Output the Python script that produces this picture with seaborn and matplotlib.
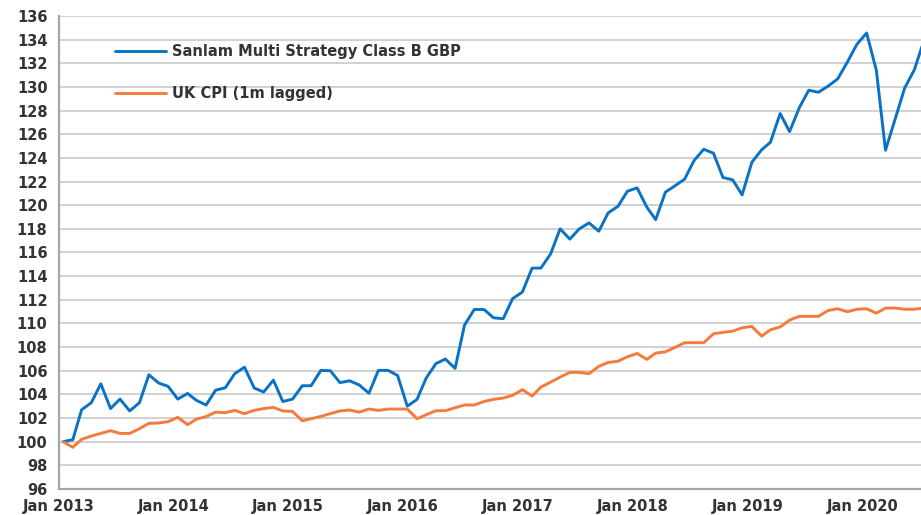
import matplotlib
matplotlib.use("Agg")
import matplotlib.pyplot as plt
import matplotlib.dates as mdates
import pandas as pd
import seaborn as sns

# monthly index values, Jan 2013 - Jul 2020 (rebased to 100)
fund = [100.0, 100.17, 102.7, 103.3, 104.9, 102.8, 103.6, 102.6, 103.3, 105.66, 104.96, 104.68,
        103.6, 104.08, 103.5, 103.1, 104.35, 104.56, 105.75, 106.3, 104.54, 104.2, 105.2, 103.4,
        103.6, 104.73, 104.73, 106.03, 106.0, 104.99, 105.15, 104.8, 104.1, 106.03, 106.03, 105.6,
        103.0, 103.58, 105.38, 106.6, 106.99, 106.2, 109.86, 111.18, 111.18, 110.48, 110.4, 112.1,
        112.65, 114.68, 114.68, 115.89, 118.0, 117.13, 118.0, 118.5, 117.8, 119.35, 119.9, 121.18,
        121.46, 119.83, 118.78, 121.1, 121.63, 122.2, 123.77, 124.73, 124.39, 122.34, 122.14, 120.87,
        123.63, 124.68, 125.32, 127.75, 126.22, 128.25, 129.72, 129.55, 130.08, 130.68, 132.11, 133.6,
        134.56, 131.4, 124.65, 127.3, 129.9, 131.46, 133.9]
cpi = [100.0, 99.52, 100.2, 100.48, 100.7, 100.93, 100.7, 100.7, 101.1, 101.55, 101.58, 101.69,
       102.06, 101.44, 101.9, 102.12, 102.5, 102.45, 102.65, 102.37, 102.65, 102.8, 102.9, 102.6,
       102.56, 101.77, 101.94, 102.14, 102.37, 102.6, 102.68, 102.5, 102.76, 102.65, 102.76, 102.76,
       102.76, 101.94, 102.28, 102.62, 102.62, 102.87, 103.1, 103.1, 103.4, 103.58, 103.69, 103.92,
       104.4, 103.86, 104.62, 105.04, 105.46, 105.86, 105.86, 105.75, 106.37, 106.7, 106.8, 107.18,
       107.46, 106.96, 107.49, 107.6, 107.97, 108.37, 108.37, 108.37, 109.13, 109.24, 109.35, 109.63,
       109.75, 108.93, 109.46, 109.7, 110.28, 110.6, 110.6, 110.6, 111.1, 111.24, 110.99, 111.2,
       111.24, 110.87, 111.3, 111.3, 111.2, 111.2, 111.3]
series_names = ["Sanlam Multi Strategy Class B GBP", "UK CPI (1m lagged)"]
dates = pd.date_range("2013-01-01", periods=len(fund), freq="MS") + pd.Timedelta(days=14)

df = pd.concat([
    pd.DataFrame({"date": dates, "value": fund, "series": series_names[0]}),
    pd.DataFrame({"date": dates, "value": cpi, "series": series_names[1]}),
])

sns.set_style("white")
plt.rcParams["font.family"] = ["DejaVu Sans"]
plt.rcParams["font.weight"] = "bold"

fig = plt.figure(figsize=(9.21, 5.15), dpi=100)
ax = fig.add_axes([0.0637, 0.0505, 0.9363, 0.9185])

sns.lineplot(data=df, x="date", y="value", hue="series", ax=ax,
             palette=["#0A72C4", "#F47B3B"], linewidth=2.1)

ax.set_ylim(96, 136)
ax.set_yticks(range(96, 137, 2))
ax.set_xlim(pd.Timestamp("2013-01-01"), pd.Timestamp("2020-07-06"))
ax.xaxis.set_major_locator(mdates.YearLocator())
ax.xaxis.set_major_formatter(mdates.DateFormatter("%b %Y"))

ax.grid(axis="y", color="#CACACA", linewidth=1.2)
ax.set_axisbelow(True)
for side in ["top", "right"]:
    ax.spines[side].set_visible(False)
for side in ["left", "bottom"]:
    ax.spines[side].set_color("#A6A6A6")
    ax.spines[side].set_linewidth(1.6)

ax.tick_params(axis="both", colors="#A6A6A6", length=5, width=1.4,
               labelcolor="#333333", labelsize=10.5)
ax.tick_params(axis="x", pad=2)
ax.tick_params(axis="y", pad=3)
ax.set_xlabel("")
ax.set_ylabel("")

ax.legend(loc="upper left", bbox_to_anchor=(0.05, 0.969), frameon=False,
          fontsize=10.5, handlelength=3.5, handletextpad=0.4, labelspacing=1.85,
          labelcolor="#333333")

fig.savefig("out.png", dpi=100)
